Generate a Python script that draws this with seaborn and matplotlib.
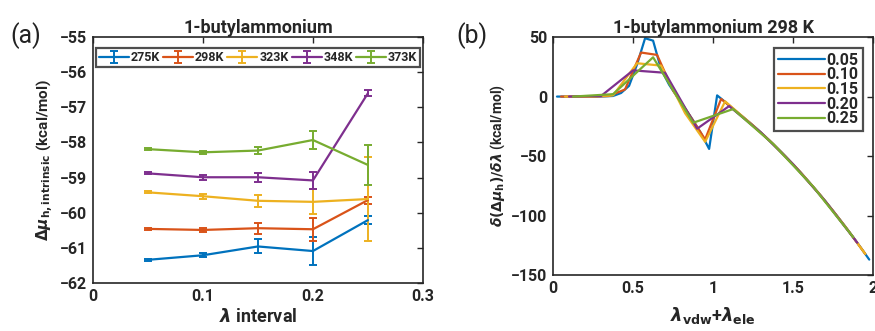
import numpy as np
import pandas as pd
import matplotlib
matplotlib.use("Agg")
import matplotlib.pyplot as plt
import seaborn as sns

# ---------------- data: panel (a) ----------------
intervals = [0.05, 0.10, 0.15, 0.20, 0.25]
temps = ["275K", "298K", "323K", "348K", "373K"]
mu_275 = [-61.34, -61.21, -60.96, -61.09, -60.21]
err_275 = [0.03, 0.06, 0.20, 0.40, 0.12]
mu_298 = [-60.46, -60.49, -60.44, -60.47, -59.64]
err_298 = [0.03, 0.05, 0.16, 0.33, 0.10]
mu_323 = [-59.42, -59.53, -59.66, -59.69, -59.61]
err_323 = [0.03, 0.07, 0.17, 0.36, 1.19]
mu_348 = [-58.88, -58.99, -58.99, -59.08, -56.60]
err_348 = [0.03, 0.07, 0.13, 0.25, 0.08]
mu_373 = [-58.19, -58.28, -58.23, -57.93, -58.64]
err_373 = [0.03, 0.05, 0.10, 0.25, 0.58]

# ---------------- data: panel (b) ----------------
x_005 = [0.025, 0.075, 0.125, 0.175, 0.225, 0.275, 0.325, 0.375, 0.425, 0.475,
         0.525, 0.575, 0.625, 0.675, 0.725, 0.775, 0.825, 0.875, 0.925, 0.975,
         1.025, 1.075, 1.125, 1.175, 1.225, 1.275, 1.325, 1.375, 1.425, 1.475,
         1.525, 1.575, 1.625, 1.675, 1.725, 1.775, 1.825, 1.875, 1.925, 1.975]
y_005 = [0, 0, 0, 0, 0, 0, 0.2, 0.5, 3, 9,
         27, 49, 47, 23, 10, 0, -10, -20, -31, -44,
         1, -4.5, -10.5, -15.9, -21.5, -27.3, -33.5, -39.9, -46.5, -53.5,
         -60.6, -68.1, -75.8, -83.7, -92.0, -100.5, -109.2, -118.2, -127.5, -137.0]
x_010 = [0.05, 0.15, 0.25, 0.35, 0.45, 0.55, 0.65, 0.75, 0.85, 0.95,
         1.05, 1.15, 1.25, 1.35, 1.45, 1.55, 1.65, 1.75, 1.85, 1.95]
y_010 = [0, 0, 0, 0.5, 6, 37, 35, 5, -15, -36,
         -2, -13.1, -24.4, -36.6, -50.0, -64.3, -79.7, -96.2, -113.7, -132.2]
x_015 = [0.075, 0.225, 0.375, 0.525, 0.675, 0.825, 0.95,
         1.075, 1.225, 1.375, 1.525, 1.675, 1.825, 1.95]
y_015 = [0, 0, 1, 28, 26, -14, -38,
         -4, -21.5, -39.9, -60.6, -83.7, -109.2, -132.2]
x_020 = [0.1, 0.3, 0.5, 0.7, 0.9, 1.1, 1.3, 1.5, 1.7, 1.9]
y_020 = [0, 0.5, 22, 20, -27, -8, -30.4, -57.0, -87.8, -122.8]
x_025 = [0.125, 0.375, 0.625, 0.875, 1.125, 1.375, 1.625, 1.875]
y_025 = [0, 2, 33, -22, -10.5, -39.9, -75.8, -118.2]
interval_labels = ["0.05", "0.10", "0.15", "0.20", "0.25"]

colors = ["#0072BD", "#D95319", "#EDB120", "#7E2F8E", "#77AC30"]

sns.set_theme(style="white")
plt.rcParams["font.family"] = ["Roboto", "DejaVu Sans"]
plt.rcParams["mathtext.fontset"] = "dejavusans"
plt.rcParams["font.weight"] = "bold"
plt.rcParams["axes.labelweight"] = "bold"
plt.rcParams["axes.titleweight"] = "bold"

fig = plt.figure(figsize=(8.75, 3.31), dpi=100)
axa = fig.add_axes([0.1063, 0.145, 0.377, 0.743])
axb = fig.add_axes([0.632, 0.169, 0.366, 0.719])

# ---------- panel (a) ----------
mus = [mu_275, mu_298, mu_323, mu_348, mu_373]
errs = [err_275, err_298, err_323, err_348, err_373]
for lab, m, e, c in zip(temps, mus, errs, colors):
    axa.errorbar(intervals, m, yerr=e, color=c, lw=1.6, elinewidth=1.4,
                 capsize=3, capthick=1.4, label=lab)
axa.set_xlim(0, 0.3)
axa.set_ylim(-62, -55)
axa.set_xticks([0, 0.1, 0.2, 0.3])
axa.set_xticklabels(["0", "0.1", "0.2", "0.3"])
axa.set_yticks(range(-62, -54))
axa.set_title("1-butylammonium", fontsize=13, pad=3)
axa.set_xlabel(r"$\lambda$ interval", fontsize=13, labelpad=3)
axa.set_ylabel(r"$\Delta\mu_{\mathbf{h,intrinsic}}$ (kcal/mol)", fontsize=11, labelpad=3)
leg = axa.legend(loc="upper center", bbox_to_anchor=(0.5, 0.955), ncol=5,
                 fontsize=9, frameon=True, fancybox=False, handlelength=2.4,
                 handletextpad=0.15, columnspacing=0.25, borderpad=0.25,
                 borderaxespad=0.0)
leg.get_frame().set_edgecolor("#222222")
leg.get_frame().set_linewidth(1.6)
for t in leg.get_texts():
    t.set_fontweight("bold")

# ---------- panel (b) ----------
xs = [x_005, x_010, x_015, x_020, x_025]
ys = [y_005, y_010, y_015, y_020, y_025]
frames = []
for lab, xv, yv in zip(interval_labels, xs, ys):
    frames.append(pd.DataFrame({"lam": xv, "dmu": yv, "interval": lab}))
df = pd.concat(frames, ignore_index=True)
sns.lineplot(data=df, x="lam", y="dmu", hue="interval", hue_order=interval_labels,
             palette=colors, estimator=None, sort=False, lw=1.6, ax=axb)
axb.set_xlim(0, 2)
axb.set_ylim(-150, 50)
axb.set_xticks([0, 0.5, 1, 1.5, 2])
axb.set_xticklabels(["0", "0.5", "1", "1.5", "2"])
axb.set_yticks([-150, -100, -50, 0, 50])
axb.set_title("1-butylammonium 298 K", fontsize=13, pad=3)
axb.set_xlabel(r"$\lambda_{\mathbf{vdw}}$+$\lambda_{\mathbf{ele}}$", fontsize=13, labelpad=7)
axb.set_ylabel(r"$\delta(\Delta\mu_{\mathbf{h}})/\delta\lambda$ (kcal/mol)", fontsize=10, labelpad=3)
legb = axb.legend(loc="upper right", bbox_to_anchor=(0.968, 0.955), fontsize=11.5,
                  frameon=True, fancybox=False, handlelength=2.9,
                  handletextpad=0.1, borderpad=0.3, labelspacing=-0.02,
                  borderaxespad=0.0, title=None)
legb.get_frame().set_edgecolor("#222222")
legb.get_frame().set_linewidth(1.6)
for t in legb.get_texts():
    t.set_fontweight("bold")

for ax in (axa, axb):
    for s in ax.spines.values():
        s.set_visible(True)
        s.set_color("#262626")
        s.set_linewidth(1.2)
    ax.tick_params(direction="in", length=4, width=1, colors="#262626",
                   labelsize=11.5, top=True, right=True, pad=4,
                   labelcolor="#262626")
    for lbl in ax.get_xticklabels() + ax.get_yticklabels():
        lbl.set_fontweight("bold")

fig.text(0.012, 0.87, "(a)", fontsize=18, fontweight="normal", color="#222222")
fig.text(0.522, 0.87, "(b)", fontsize=18, fontweight="normal", color="#222222")

fig.savefig("out.png", dpi=100)
